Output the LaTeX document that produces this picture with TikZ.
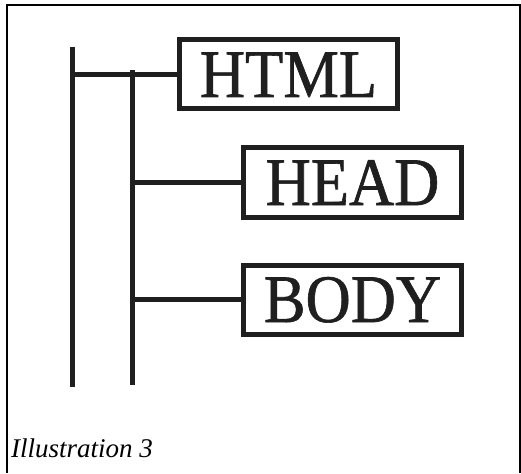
\documentclass[tikz,border=0pt]{standalone}
\usepackage{fontspec}
\setmainfont{Liberation Serif}
\newfontfamily\boxfont[FakeStretch=0.92,FakeBold=0.9]{Liberation Serif}
\begin{document}
\begin{tikzpicture}[x=1pt,y=1pt,
  tagbox/.style={draw=black!88, line width=5pt, inner sep=0pt,
    minimum width=218pt, minimum height=69pt,
    text height=45pt, text depth=0pt,
    font=\boxfont\fontsize{68}{70}\selectfont, text=black!88},
  branch/.style={draw=black!88, line width=5pt},
  frameline/.style={draw=black, line width=1.5pt}]
\useasboundingbox (0,0) rectangle (521,-473);
% outer frame, open at the bottom
\draw[frameline] (7,-473) -- (7,-5) -- (520,-5) -- (520,-473);

% element boxes
\node[tagbox] (html) at (288.5,-74.5) {HTML};
\node[tagbox] (head) at (352.5,-182.5) {HEAD};
\node[tagbox] (body) at (352.5,-299.5) {BODY};

% tree trunks
\coordinate (t1top) at (72,-47);
\coordinate (t1bot) at (72,-387);
\coordinate (t2top) at (132,-70);
\coordinate (t2bot) at (132,-385);
\draw[branch] (t1top) -- (t1bot);
\draw[branch] (t2top) -- (t2bot);

% branches to the boxes
\coordinate (j0) at (75,-75);
\draw[branch] (j0 |- html.west) -- (html.west);
\draw[branch] (t2top |- head.west) -- (head.west);
\draw[branch] (t2top |- body.west) -- (body.west);

% caption
\node[anchor=base west, inner sep=0pt, font=\itshape\fontsize{27}{30}\selectfont] (cap) at (11,-457) {Illustration 3};
\end{tikzpicture}
\end{document}
